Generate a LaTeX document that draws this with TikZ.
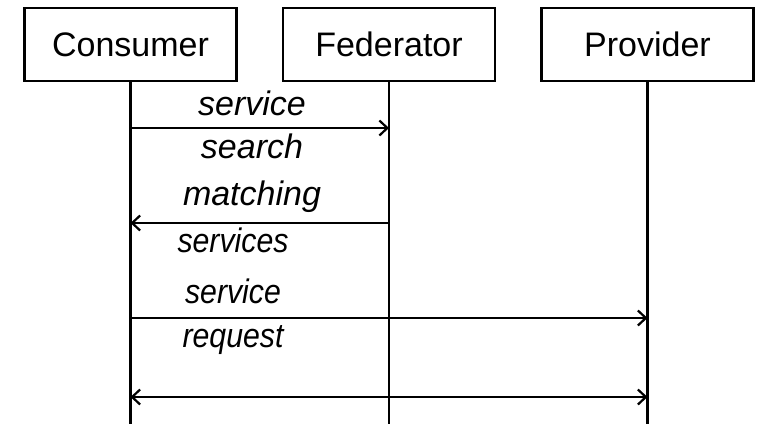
\documentclass[tikz,border=0pt]{standalone}
\usepackage{fontspec}
\setmainfont{Liberation Sans}
\usetikzlibrary{arrows.meta,positioning}

\begin{document}
\begin{tikzpicture}[
    x=1pt, y=-1pt,
    node distance=44pt,%设置盒子之间的距离
    actor/.style={
        % The shape:
        rectangle,
        minimum width=212pt,
        minimum height=73pt,
        line width=2.5pt,
        draw=black,
        % The fonts
        font=\fontsize{34}{40}\selectfont},
    lifeline/.style={line width=2.2pt},
    msg/.style={line width=2.2pt, -{Straight Barb[length=8pt,width=15pt]}},
    msglabel/.style={anchor=base, inner sep=0pt,
        font=\fontsize{34}{40}\selectfont\itshape},
    narrow msglabel/.style={msglabel,
        font=\fontsize{34}{40}\selectfont\itshape\addfontfeatures{FakeStretch=0.89}}]%绘制三个参与者
  \useasboundingbox (0,0) rectangle (763,424);
  \node (cons) [actor] at (130.5,44.5) {Consumer};
  \node (fed) [actor,right=of cons] {Federator};
  \node (prov) [actor,right=of fed] {Provider};
  % lifelines
  \coordinate (cons end) at (cons.south |- 0,424);
  \coordinate (fed end) at (fed.south |- 0,424);
  \coordinate (prov end) at (prov.south |- 0,424);
  \draw[lifeline] (cons.south) -- (cons end);
  \draw[lifeline] (fed.south) -- (fed end);
  \draw[lifeline] (prov.south) -- (prov end);
  % message points
  \coordinate (c1) at (cons.south |- 0,128);
  \coordinate (f1) at (fed.south |- 0,128);
  \coordinate (c2) at (cons.south |- 0,223);
  \coordinate (f2) at (fed.south |- 0,223);
  \coordinate (c3) at (cons.south |- 0,318);
  \coordinate (p3) at (prov.south |- 0,318);
  \coordinate (c4) at (cons.south |- 0,397);
  \coordinate (p4) at (prov.south |- 0,397);
  % messages
  \draw[msg] (c1) -- (f1);
  \draw[msg] (f2) -- (c2);
  \draw[msg] (c3) -- (p3);
  \draw[msg,{Straight Barb[length=8pt,width=15pt]}-{Straight Barb[length=8pt,width=15pt]}] (c4) -- (p4);
  % labels
  \node (search a) [msglabel] at (252,115) {service};
  \node (search b) [msglabel] at (252,158) {search};
  \node (match a) [msglabel] at (252,205) {matching};
  \node (match b) [narrow msglabel] at (233,252) {services};
  \node (req a) [narrow msglabel] at (233,303) {service};
  \node (req b) [narrow msglabel] at (233,347) {request};
\end{tikzpicture}
\end{document}
